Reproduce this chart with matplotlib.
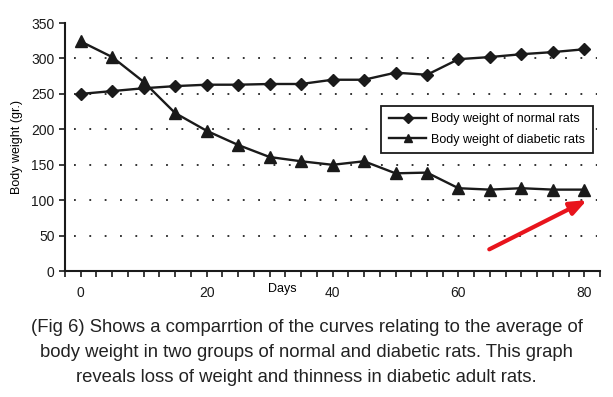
import numpy as np
import matplotlib.pyplot as plt

days = [0, 5, 10, 15, 20, 25, 30, 35, 40, 45, 50, 55, 60, 65, 70, 75, 80]
normal = [250, 254, 258, 261, 263, 263, 264, 264, 270, 270, 280, 277, 299, 302, 306, 309, 313]
diabetic = [324, 302, 267, 223, 198, 178, 161, 155, 150, 155, 138, 139, 117, 115, 117, 115, 115]
x_labels = [0, 20, 40, 60, 80]
y_ticks = [0, 50, 100, 150, 200, 250, 300, 350]
caption = ("(Fig 6) Shows a comparrtion of the curves relating to the average of\n"
           "body weight in two groups of normal and diabetic rats. This graph\n"
           "reveals loss of weight and thinness in diabetic adult rats.")

plt.rcParams['font.family'] = ['Liberation Sans', 'DejaVu Sans']
fig = plt.figure(figsize=(6.13, 3.97), dpi=100)
ax = fig.add_axes([0.106, 0.317, 0.873, 0.625])

# dotted grid lines
for v in y_ticks[1:-1]:
    ax.plot([-1, 82], [v, v], ls=(0, (1, 7.5)), color='#222222', lw=1.3, zorder=1)

ink = '#1a1a1a'
ax.plot(days, normal, marker='D', ms=6, color=ink, lw=1.7, label='Body weight of normal rats', zorder=3)
ax.plot(days, diabetic, marker='^', ms=8, color=ink, lw=1.7, label='Body weight of diabetic rats', zorder=3)

ax.set_xlim(-2.5, 82.5)
ax.set_ylim(0, 350)
ax.set_yticks(y_ticks)
ticks = np.arange(-2.5, 83, 2.5)
ax.set_xticks(ticks)
ax.set_xticklabels([str(int(t)) if t in x_labels else '' for t in ticks])
ax.tick_params(axis='x', direction='out', length=4, width=1.2, pad=7, labelsize=10, colors=ink)
ax.tick_params(axis='y', direction='out', length=4, width=1.2, labelsize=10, colors=ink)
for s in ['top', 'right']:
    ax.spines[s].set_visible(False)
for s in ['left', 'bottom']:
    ax.spines[s].set_linewidth(1.5)
    ax.spines[s].set_color(ink)

ax.set_ylabel('Body weight (gr.)', fontsize=9, labelpad=6)
fig.text(0.46, 0.272, 'Days', fontsize=9, ha='center', va='center')

leg = ax.legend(loc='upper right', bbox_to_anchor=(0.967, 0.733), bbox_transform=fig.transFigure,
                fontsize=9, frameon=True, fancybox=False, handlelength=3, borderpad=0.6,
                labelspacing=0.65, handletextpad=0.4, borderaxespad=0, markerscale=0.8)
leg.get_frame().set_edgecolor(ink)
leg.get_frame().set_linewidth(1.3)
leg.get_frame().set_alpha(1)

ax.annotate('', xy=(80.8, 102), xytext=(64.5, 29),
            arrowprops=dict(arrowstyle='-|>,head_length=1.0,head_width=0.4', color='#e8141c', lw=3))

fig.text(0.5, 0.112, caption, ha='center', va='center', fontsize=13.3, color='#222222', linespacing=1.58)

fig.savefig('out.png', dpi=100)
